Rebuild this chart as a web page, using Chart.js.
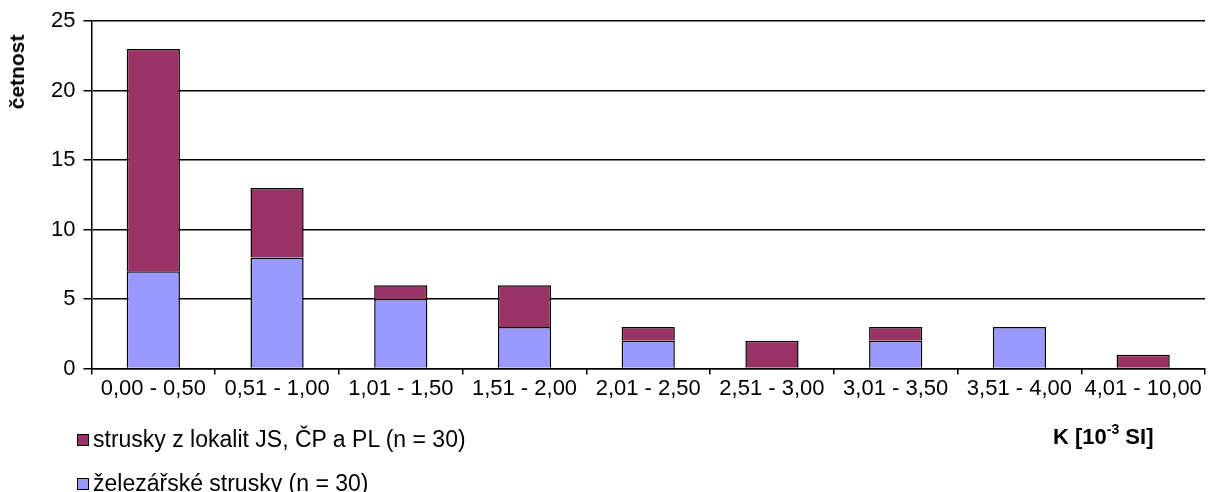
<!DOCTYPE html>
<html>
<head>
<meta charset="utf-8">
<script src="https://cdn.jsdelivr.net/npm/chart.js@4.4.1/dist/chart.umd.min.js"></script>
<style>
  html, body { margin: 0; padding: 0; background: #fff; }
  #wrap { position: relative; width: 1230px; height: 492px; font-family: "Liberation Sans", Arial, sans-serif; color: #000; }
  #graf { position: absolute; left: 0; top: 0; }
  #legenda { position: absolute; left: 77px; top: 425px; font-size: 23px; }
  #legenda div { height: 44px; line-height: 28px; white-space: nowrap; }
  #legenda span.box { display: inline-block; width: 10px; height: 10px; border: 1.5px solid #000; margin-right: 4px; vertical-align: 1px; }
  #osaX { position: absolute; left: 1053px; top: 425px; font-size: 22px; line-height: 24px; font-weight: bold; white-space: nowrap; }
  #osaX sup { font-size: 14px; line-height: 0; vertical-align: 10px; }
  #osaY { position: absolute; left: 17px; top: 72px; font-size: 21px; font-weight: bold; white-space: nowrap;
          transform: translate(-50%, -50%) rotate(-90deg); }
</style>
</head>
<body>
<div id="wrap">
  <canvas id="graf" width="1230" height="492"></canvas>
  <div id="osaY">četnost</div>
  <div id="legenda"></div>
  <div id="osaX">K [10<sup>-3</sup> SI]</div>
</div>
<script>
let kategorie = ['0,00 - 0,50', '0,51 - 1,00', '1,01 - 1,50', '1,51 - 2,00', '2,01 - 2,50',
                 '2,51 - 3,00', '3,01 - 3,50', '3,51 - 4,00', '4,01 - 10,00'];
let zelezarske = [7, 8, 5, 3, 2, 0, 2, 3, 0];
let lokality = [16, 5, 1, 3, 1, 2, 1, 0, 1];
let nazevZel = 'železářské strusky (n = 30)';
let nazevLok = 'strusky z lokalit JS, ČP a PL (n = 30)';

let platno = document.getElementById('graf').getContext('2d');

let graf = new Chart(platno, {
  type: 'bar',
  data: {
    labels: kategorie,
    datasets: [{
      label: nazevZel,
      data: zelezarske,
      backgroundColor: '#9999FF',
      borderColor: '#000000',
      borderWidth: 1.5,
      barPercentage: 0.43,
      categoryPercentage: 1
    }, {
      label: nazevLok,
      data: lokality,
      backgroundColor: '#993366',
      borderColor: '#000000',
      borderWidth: 1.5,
      barPercentage: 0.43,
      categoryPercentage: 1
    }]
  },
  options: {
    responsive: false,
    animation: false,
    layout: { padding: { left: 43, right: 25, top: 12, bottom: 89 } },
    plugins: { legend: { display: false }, tooltip: { enabled: false } },
    scales: {
      x: {
        stacked: true,
        grid: { offset: true, drawOnChartArea: false, color: '#000', tickLength: 6, lineWidth: 1.5 },
        border: { color: '#000', width: 1.5 },
        ticks: { color: '#000', font: { family: 'Liberation Sans', size: 22 }, maxRotation: 0, padding: 1 }
      },
      y: {
        stacked: true,
        min: 0,
        max: 25,
        ticks: { stepSize: 5, color: '#000', font: { family: 'Liberation Sans', size: 22 }, padding: 8 },
        grid: { color: '#000', tickLength: 8, lineWidth: 1.5 },
        border: { color: '#000', width: 1.5 }
      }
    }
  }
});

// legenda: horni rada patri horni serii
let legenda = document.getElementById('legenda');
[[nazevLok, '#993366'], [nazevZel, '#9999FF']].forEach(function (p) {
  let r = document.createElement('div');
  r.innerHTML = '<span class="box" style="background:' + p[1] + '"></span>' + p[0];
  legenda.appendChild(r);
});
</script>
</body>
</html>
